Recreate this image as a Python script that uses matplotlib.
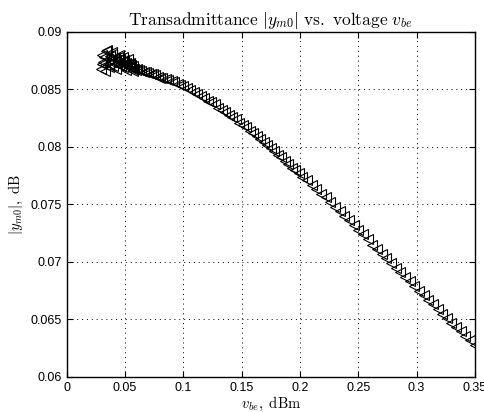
"""Transadmittance |y_m0| vs. voltage v_be"""
import matplotlib
matplotlib.use("Agg")
import matplotlib.pyplot as plt

# dense, noisy cluster at low voltage
v_cluster = [0.029, 0.030, 0.031, 0.032, 0.033, 0.034, 0.035, 0.036, 0.037, 0.038,
             0.039, 0.040, 0.041, 0.042, 0.043, 0.044, 0.045, 0.046, 0.047, 0.048,
             0.049, 0.050, 0.051, 0.052, 0.053, 0.054, 0.055, 0.056, 0.057, 0.058,
             0.059, 0.060,
             0.0305, 0.0325, 0.0345, 0.0365, 0.0385, 0.0405, 0.0425, 0.0445, 0.0465,
             0.0485, 0.0505, 0.0525, 0.0545, 0.0565]
y_cluster = [0.0868, 0.0880, 0.0874, 0.0878, 0.0871, 0.0883, 0.0876, 0.0872, 0.0879, 0.0874,
             0.0881, 0.0870, 0.0877, 0.0875, 0.0873, 0.0878, 0.0871, 0.0876, 0.0874, 0.0869,
             0.0875, 0.0872, 0.0873, 0.0870, 0.0872, 0.0869, 0.0871, 0.0868, 0.0870, 0.0868,
             0.0867, 0.0868,
             0.0872, 0.0866, 0.0884, 0.0869, 0.0882, 0.0877, 0.0868, 0.0880, 0.0870,
             0.0878, 0.0867, 0.0876, 0.0873, 0.0866]

# main falling branch
v_main = [0.062, 0.064, 0.066, 0.068, 0.070, 0.072, 0.074, 0.076, 0.078, 0.080,
          0.082, 0.085, 0.087, 0.090, 0.092, 0.095, 0.097, 0.100, 0.103, 0.106,
          0.109, 0.112, 0.115, 0.118, 0.121, 0.124, 0.127, 0.130, 0.133, 0.136,
          0.139, 0.142, 0.145, 0.148, 0.151, 0.154, 0.157, 0.160, 0.163, 0.166,
          0.169, 0.172, 0.175, 0.178, 0.181, 0.184, 0.187, 0.190, 0.193, 0.196,
          0.199, 0.202, 0.206, 0.210, 0.214, 0.218, 0.222, 0.226, 0.230, 0.234,
          0.238, 0.242, 0.246, 0.250, 0.254, 0.258, 0.262, 0.266, 0.270, 0.274,
          0.278, 0.282, 0.286, 0.290, 0.294, 0.298, 0.302, 0.306, 0.310, 0.314,
          0.318, 0.322, 0.326, 0.330, 0.334, 0.338, 0.342, 0.346, 0.350]
y_main = [0.0867, 0.0866, 0.0865, 0.0865, 0.0864, 0.0863, 0.0863, 0.0862, 0.0861, 0.0860,
          0.0860, 0.0859, 0.0858, 0.0857, 0.0856, 0.0855, 0.0854, 0.0853, 0.0851, 0.0849,
          0.0848, 0.0846, 0.0844, 0.0842, 0.0840, 0.0839, 0.0837, 0.0834, 0.0832, 0.0830,
          0.0828, 0.0826, 0.0824, 0.0821, 0.0819, 0.0817, 0.0814, 0.0812, 0.0809, 0.0807,
          0.0804, 0.0802, 0.0799, 0.0796, 0.0793, 0.0791, 0.0788, 0.0785, 0.0782, 0.0780,
          0.0777, 0.0774, 0.0771, 0.0767, 0.0763, 0.0759, 0.0756, 0.0752, 0.0748, 0.0744,
          0.0740, 0.0736, 0.0732, 0.0728, 0.0724, 0.0720, 0.0715, 0.0711, 0.0707, 0.0703,
          0.0699, 0.0695, 0.0691, 0.0687, 0.0683, 0.0679, 0.0675, 0.0671, 0.0667, 0.0663,
          0.0659, 0.0655, 0.0651, 0.0647, 0.0643, 0.0640, 0.0636, 0.0632, 0.0628]

xticks = [0, 0.05, 0.1, 0.15, 0.2, 0.25, 0.3, 0.35]
yticks = [0.06, 0.065, 0.07, 0.075, 0.08, 0.085, 0.09]

plt.rcParams["mathtext.fontset"] = "cm"
plt.rcParams["font.family"] = ["Liberation Sans", "DejaVu Sans"]

fig = plt.figure(figsize=(4.84, 4.12), dpi=100)
ax = fig.add_axes([0.138, 0.085, 0.843, 0.838])

ax.plot(v_cluster + v_main, y_cluster + y_main, linestyle="none", marker="<",
        markersize=7, markerfacecolor="none", markeredgecolor="black", markeredgewidth=0.8)

ax.set_xlim(0, 0.35)
ax.set_ylim(0.06, 0.09)
ax.set_xticks(xticks)
ax.set_yticks(yticks)
ax.set_xticklabels(["0", "0.05", "0.1", "0.15", "0.2", "0.25", "0.3", "0.35"])
ax.set_yticklabels(["0.06", "0.065", "0.07", "0.075", "0.08", "0.085", "0.09"])
ax.tick_params(direction="in", top=True, right=True, labelsize=9, length=4, width=0.8)
ax.grid(True, linestyle=(0, (1, 4)), color="black", linewidth=0.7)
for s in ax.spines.values():
    s.set_linewidth(1.0)

ax.set_title(r"$\mathrm{Transadmittance}\ |y_{m0}|\ \mathrm{vs.\ voltage}\ v_{be}$", fontsize=12.5, pad=5)
ax.set_xlabel(r"$v_{be}\mathrm{,\ dBm}$", fontsize=10.5, labelpad=1)
ax.set_ylabel(r"$|y_{m0}|\mathrm{,\ dB}$", fontsize=10.5, labelpad=4)

plt.savefig("out.png", dpi=100)
